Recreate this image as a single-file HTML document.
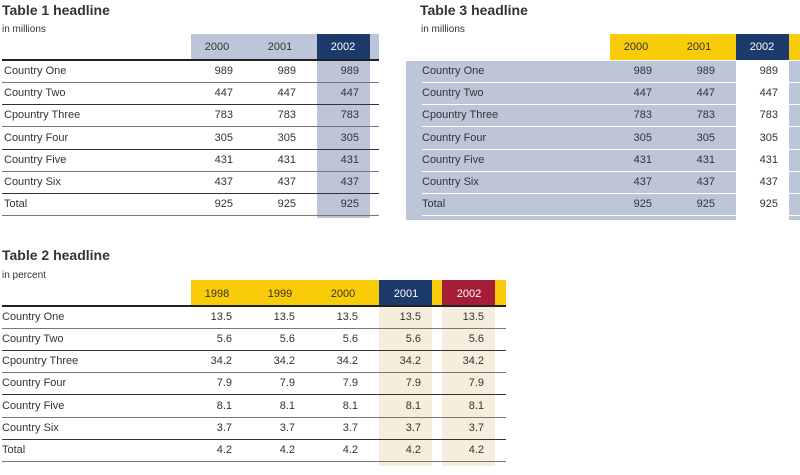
<!DOCTYPE html>
<html><head><meta charset="utf-8"><style>
body{margin:0;width:800px;height:475px;background:#fff;position:relative;overflow:hidden;font-family:"Liberation Sans",sans-serif;color:#333}
.a{position:absolute}
.t{font-weight:bold;font-size:14px;color:#333}
.s{font-size:10px}
.c{font-size:11px;line-height:14px;white-space:nowrap}
.r{text-align:right;width:50px}
.h{text-align:center;width:50px}
</style></head><body>
<div id="root"></div>
<script>
const rowLabels=["Country One","Country Two","Cpountry Three","Country Four","Country Five","Country Six","Total"];
const t1Years=["2000","2001","2002"];
const t1Values=["989","447","783","305","431","437","925"];
const t2Years=["1998","1999","2000","2001","2002"];
const t2Values=["13.5","5.6","34.2","7.9","8.1","3.7","4.2"];
const root=document.getElementById('root');
function box(x,y,w,h,bg,name){const d=document.createElement('div');d.className='a';d.style.cssText+=`left:${x}px;top:${y}px;width:${w}px;height:${h}px;background:${bg}`;


root.appendChild(d);return d;}
function txt(x,y,s,cls,name,color){const d=document.createElement('div');d.className='a '+cls;d.style.left=x+'px';d.style.top=y+'px';if(color)d.style.color=color;d.textContent=s;


root.appendChild(d);return d;}
const rowLines=[82,104,126,149,171,193,215];
// Table 1
txt(2,2,"Table 1 headline","t","table1-title");
txt(2,24,"in millions","s","table1-subtitle");
box(191,34,188,26,"#bcc6d8","table1-header-band");
box(317,34,53,26,"#1c3a6b","table1-header-2002");
box(317,60,53,158,"#bcc6d8","table1-highlight-column");
box(2,59,377,1.5,"#222","table1-header-rule");
t1Years.forEach((y,i)=>txt(192+i*63,40,y,"c h","table1-year-"+y,i==2?"#fff":"#333"));
rowLabels.forEach((l,r)=>{const y=rowLines[r]-22+4;
txt(4,y,l,"c","table1-row-label");
t1Years.forEach((yy,i)=>txt(183+i*63,y,t1Values[r],"c r","table1-cell"));
box(2,rowLines[r],377,1,r%2?"#333":"#777","table1-row-rule");});
// Table 3
txt(420,2,"Table 3 headline","t","table3-title");
txt(421,24,"in millions","s","table3-subtitle");
box(610,34,190,26,"#f9cc0a","table3-header-band");
box(736,34,53,26,"#1c3a6b","table3-header-2002");
box(406,61,394,159,"#bcc6d8","table3-body-band");
box(736,61,53,159,"#fff","table3-white-column");
t1Years.forEach((y,i)=>txt(611+i*63,40,y,"c h","table3-year-"+y,i==2?"#fff":"#333"));
rowLabels.forEach((l,r)=>{const y=rowLines[r]-22+4;
txt(422,y,l,"c","table3-row-label");
t1Years.forEach((yy,i)=>txt(602+i*63,y,t1Values[r],"c r","table3-cell"));
box(422,rowLines[r],378,1,"#fff","table3-row-rule");});
// Table 2
txt(2,247,"Table 2 headline","t","table2-title");
txt(2,270,"in percent","s","table2-subtitle");
box(191,280,315,26,"#f9cc0a","table2-header-band");
box(379,280,53,26,"#1c3a6b","table2-header-2001");
box(442,280,53,26,"#a51d36","table2-header-2002");
box(379,306,53,160,"#f6eedc","table2-highlight-2001");
box(442,306,53,160,"#f6eedc","table2-highlight-2002");
box(2,305,504,1.5,"#222","table2-header-rule");
const rowLines2=[328,350,372,394,417,439,461];
t2Years.forEach((y,i)=>txt(192+i*63,287,y,"c h","table2-year-"+y,i>=3?"#fff":"#333"));
rowLabels.forEach((l,r)=>{const y=rowLines2[r]-22+4;
txt(2,y,l,"c","table2-row-label");
t2Years.forEach((yy,i)=>txt(182+i*63,y,t2Values[r],"c r","table2-cell"));
box(2,rowLines2[r],504,1,r%2?"#333":"#777","table2-row-rule");});
</script>
</body></html>
